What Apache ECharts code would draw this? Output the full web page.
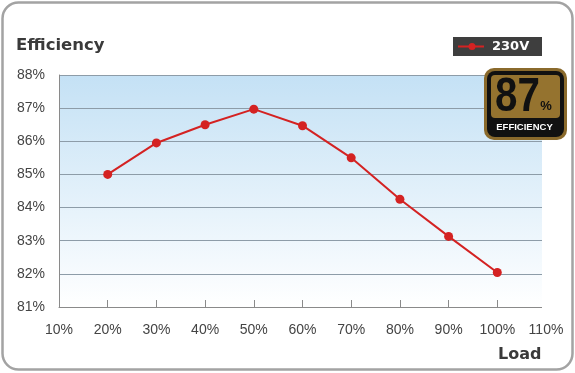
<!DOCTYPE html>
<html>
<head>
<meta charset="utf-8">
<script src="https://cdn.jsdelivr.net/npm/echarts@6/dist/echarts.min.js"></script>
<style>html,body{margin:0;padding:0;background:#fff}#c{width:575px;height:373px}</style>
</head>
<body>
<div id="c"></div>
<script>
const loads = [20, 30, 40, 50, 60, 70, 80, 90, 100];
const efficiency230V = [85.0, 85.95, 86.5, 86.97, 86.47, 85.5, 84.25, 83.13, 82.04];
const seriesName = '230V';
const yTitle = 'Efficiency';
const xTitle = 'Load';
const badgeValue = '87';
const badgeLabel = 'EFFICIENCY';

const chart = echarts.init(document.getElementById('c'), null, {renderer: 'canvas'});
const font = '"Liberation Sans", Arial, sans-serif';
const bfont = '"DejaVu Sans", sans-serif';
const red = '#d42222';
chart.setOption({
  animation: false,
  grid: {
    left: 59, right: 29, top: 75, bottom: 66, show: true,
    borderWidth: 0,
    backgroundColor: new echarts.graphic.LinearGradient(0, 0, 0, 1, [
      {offset: 0, color: '#c4e1f5'},
      {offset: 1, color: '#ffffff'}
    ])
  },
  xAxis: {
    type: 'value', min: 10, max: 110, interval: 10,
    axisLine: {show: true, lineStyle: {color: '#8a8a8a', width: 1}},
    axisTick: {show: true, inside: true, length: 7, lineStyle: {color: '#8a8a8a'}},
    splitLine: {show: false},
    axisLabel: {formatter: '{value}%', color: '#444', fontSize: 14, fontFamily: font, margin: 16}
  },
  yAxis: {
    type: 'value', min: 81, max: 88, interval: 1,
    axisLine: {show: true, lineStyle: {color: '#8a8a8a', width: 1}},
    axisTick: {show: false},
    splitLine: {show: true, lineStyle: {color: '#8d9ca8', width: 1}},
    axisLabel: {formatter: '{value}%', color: '#444', fontSize: 14, fontFamily: font, margin: 14}
  },
  series: [{
    name: seriesName, type: 'line',
    data: loads.map((l, i) => [l, efficiency230V[i]]),
    symbol: 'circle', symbolSize: 9,
    lineStyle: {color: red, width: 2},
    itemStyle: {color: red}
  }],
  graphic: [
    // trim plot area past the axis end
    {type: 'rect', shape: {x: 542, y: 70, width: 8, height: 240}, style: {fill: '#ffffff'}, z: 99},
    {type: 'rect', shape: {x: 2.5, y: 2.5, width: 570, height: 367, r: 16}, style: {fill: 'none', stroke: '#a3a3a3', lineWidth: 2.5}, z: 100},
    {type: 'text', x: 16, y: 46, style: {text: yTitle, font: 'bold 16.5px ' + bfont, fill: '#3a3a3a', verticalAlign: 'middle'}, z: 100},
    {type: 'text', x: 498, y: 355, style: {text: xTitle, font: 'bold 16px ' + bfont, fill: '#3a3a3a', verticalAlign: 'middle'}, z: 100},
    // legend box
    {type: 'rect', shape: {x: 453, y: 37, width: 89, height: 19}, style: {fill: '#3e3e3e'}, z: 100},
    {type: 'line', shape: {x1: 458, y1: 46.5, x2: 484, y2: 46.5}, style: {stroke: red, lineWidth: 2}, z: 101},
    {type: 'circle', shape: {cx: 472, cy: 46.5, r: 3.5}, style: {fill: red}, z: 101},
    {type: 'text', x: 492, y: 46.5, style: {text: seriesName, font: 'bold 13px ' + bfont, fill: '#ffffff', verticalAlign: 'middle'}, z: 101},
    // badge
    {type: 'rect', shape: {x: 484, y: 68, width: 83, height: 72, r: 10}, style: {fill: '#8a6a2c'}, z: 100},
    {type: 'rect', shape: {x: 487, y: 71, width: 77, height: 66, r: 8}, style: {fill: '#111111'}, z: 101},
    {type: 'rect', shape: {x: 491, y: 75, width: 69, height: 43, r: 4}, style: {fill: '#95732f'}, z: 102},
    {type: 'text', x: 517.5, y: 98, scaleX: 0.84, style: {text: badgeValue, font: 'bold 48px ' + font, fill: '#111111', align: 'center', verticalAlign: 'middle'}, z: 103},
    {type: 'text', x: 546, y: 106, style: {text: '%', font: 'bold 13px ' + font, fill: '#111111', align: 'center', verticalAlign: 'middle'}, z: 103},
    {type: 'text', x: 524.5, y: 127.5, style: {text: badgeLabel, font: 'bold 9.5px ' + font, fill: '#ffffff', align: 'center', verticalAlign: 'middle'}, z: 103}
  ]
});
</script>
</body>
</html>
